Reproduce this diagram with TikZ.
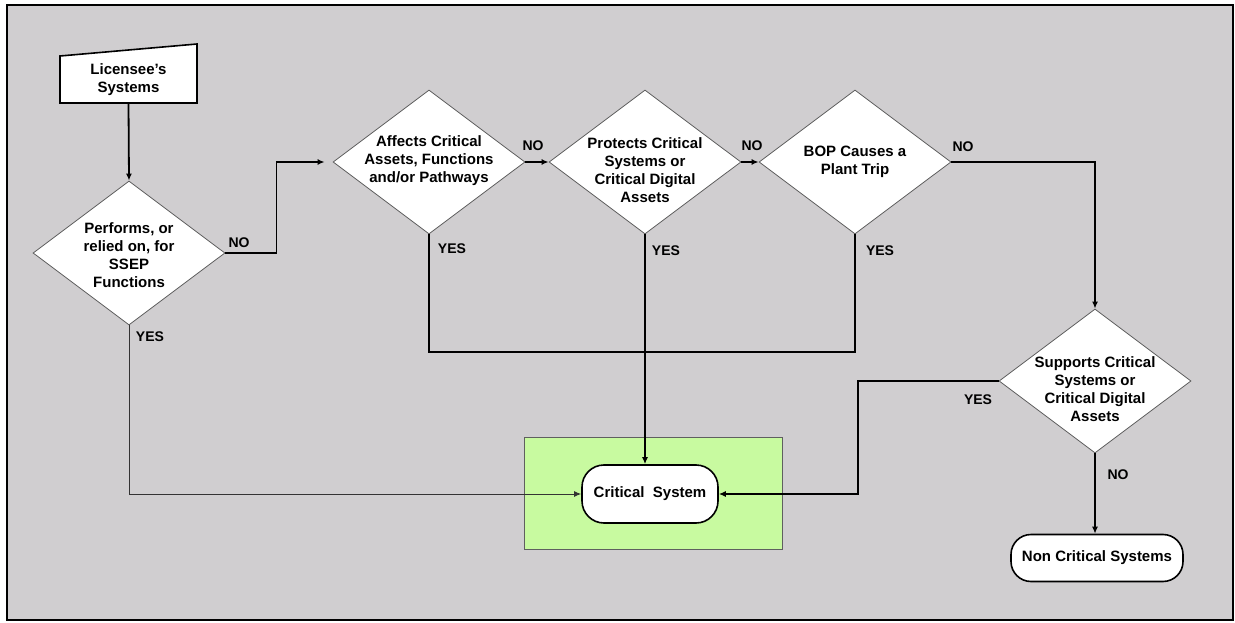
\documentclass[tikz,border=0pt]{standalone}
\usepackage{fontspec}
\setmainfont{Liberation Sans}
\usetikzlibrary{shapes.geometric,arrows.meta}
\definecolor{bg}{RGB}{208,206,208}
\definecolor{grn}{RGB}{200,250,160}
\definecolor{dgray}{RGB}{95,95,95}
\begin{document}
\begin{tikzpicture}[x=1pt,y=-1pt,
  dia/.style={diamond, draw=dgray, line width=0.8pt, fill=white, minimum width=192pt, minimum height=144pt, inner sep=0pt},
  dtext/.style={align=center, font=\fontsize{15}{18}\selectfont\bfseries, inner sep=0pt},
  term/.style={rectangle, draw=black, line width=1.6pt, fill=white, inner sep=0pt, font=\fontsize{15}{18}\selectfont\bfseries},
  lbl/.style={font=\fontsize{14}{16}\selectfont\bfseries, inner sep=0pt},
  conn/.style={line width=1.8pt, draw=black},
  arr/.style={conn, -{Latex[length=7pt,width=6pt]}},
  thinarr/.style={line width=1pt, draw=black!80, -{Latex[length=7pt,width=6pt]}}]
\useasboundingbox (0,0) rectangle (1235,623);
\fill[bg] (7,5) rectangle (1233,620);
\draw[line width=2.5pt] (7,5) rectangle (1233,620);

% start (manual input)
\filldraw[fill=white, draw=black, line width=1.6pt] (60,56) -- (197,44) -- (197,103) -- (60,103) -- cycle;
\node[dtext, minimum width=137pt, minimum height=47pt] (lic) at (128.5,79.5) {Licensee's\\Systems};

% green box and terminals
\node[rectangle, draw=dgray, line width=0.8pt, fill=grn, minimum width=258pt, minimum height=112pt, inner sep=0pt] (cbox) at (653,493) {};
\node[term, minimum width=136pt, minimum height=58pt, rounded corners=22pt] (crit) at (650,494) {Critical\ \ System};
\node[term, minimum width=172pt, minimum height=47pt, rounded corners=20pt] (nc) at (1097,558) {Non Critical\ Systems};

% diamonds
\node[dia] (d1) at (129,253) {};
\node[dtext] (d1t) at (129,255) {Performs, or\\relied on, for\\SSEP\\Functions};
\node[dia] (d2) at (429,162) {};
\node[dtext] (d2t) at (429,161) {Affects Critical\\Assets, Functions\\and/or Pathways};
\node[dia] (d3) at (645,162) {};
\node[dtext] (d3t) at (645,170) {Protects Critical\\Systems or\\Critical Digital\\Assets};
\node[dia] (d4) at (855,162) {};
\node[dtext] (d4t) at (855,162) {BOP Causes a\\Plant Trip};
\node[dia] (d5) at (1095,381) {};
\node[dtext] (d5t) at (1095,389) {Supports Critical\\Systems or\\Critical Digital\\Assets};

% connectors
\draw[arr] (lic.south) -- (d1.north);
\draw[arr] (d1.east) -- ++(51,0) |- ([xshift=-8pt]d2.west);
\draw[arr] (d2.east) -- (d3.west);
\draw[arr] (d3.east) -- (d4.west);
\draw[arr] (d4.east) -| (d5.north);
\draw[thinarr] (d1.south) |- (crit.west);
\coordinate (j) at (645,352);
\draw[conn] (d2.south) -- (d2.south |- j) -- (d4.south |- j) -- (d4.south);
\draw[arr] (d3.south) -- (d3.south |- crit.north);
\draw[arr] (d5.west) -- ++(-141,0) |- (crit.east);
\draw[arr] (d5.south) -- (d5.south |- nc.north);

% labels
\node[lbl] (l1n) at (239,243) {NO};
\node[lbl] (l1y) at (150,337) {YES};
\node[lbl] (l2n) at (533,146) {NO};
\node[lbl] (l2y) at (452,249) {YES};
\node[lbl] (l3n) at (752,146) {NO};
\node[lbl] (l3y) at (666,251) {YES};
\node[lbl] (l4n) at (963,147) {NO};
\node[lbl] (l4y) at (880,251) {YES};
\node[lbl] (l5y) at (978,400) {YES};
\node[lbl] (l5n) at (1118,475) {NO};
\end{tikzpicture}
\end{document}
